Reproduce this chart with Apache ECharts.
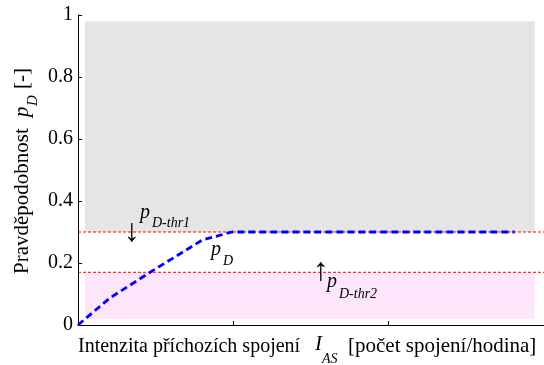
<!DOCTYPE html>
<html>
<head>
<meta charset="utf-8">
<script src="https://cdn.jsdelivr.net/npm/echarts@6/dist/echarts.min.js"></script>
<style>
  html, body { margin: 0; padding: 0; background: #fff; }
  #chart { width: 544px; height: 365px; }
</style>
</head>
<body>
<div id="chart"></div>
<script>
// Detection probability p_D versus arrival intensity I_AS
const pdX = [0, 0.205, 0.48, 0.80, 0.99, 2.81];
const pdY = [0, 0.087, 0.175, 0.274, 0.30, 0.30];

// Threshold levels
const thr1 = 0.30;
const thr2 = 0.17;

// Shaded regions [xFrom, xTo, yFrom, yTo]
const upperBand = [0.045, 2.94, 0.30, 0.98];
const lowerBand = [0.045, 2.94, 0.02, 0.17];

const yTicks = [0, 0.2, 0.4, 0.6, 0.8, 1];

const serif = 'Liberation Serif';

const chart = echarts.init(document.getElementById('chart'), null, { renderer: 'canvas' });

const grid = { left: 78, top: 15, width: 468, height: 310 };

chart.setOption({
  animation: false,
  backgroundColor: '#fff',
  grid: grid,
  xAxis: {
    type: 'value', min: 0, max: 3, interval: 1,
    axisLine: { show: true, onZero: false, lineStyle: { color: '#000', width: 1 } },
    axisTick: { show: true, inside: true, length: 4, lineStyle: { color: '#000' } },
    axisLabel: { show: false },
    splitLine: { show: false }
  },
  yAxis: {
    type: 'value', min: yTicks[0], max: yTicks[yTicks.length - 1], interval: 0.2,
    axisLine: { show: true, onZero: false, lineStyle: { color: '#000', width: 1 } },
    axisTick: { show: true, inside: true, length: 4, lineStyle: { color: '#000' } },
    axisLabel: {
      color: '#000', fontFamily: serif, fontSize: 20, margin: 5,
      formatter: v => (v === 0 || v === 1) ? String(v) : v.toFixed(1)
    },
    splitLine: { show: false }
  },
  series: [
    {
      type: 'line', data: [], silent: true,
      markArea: {
        silent: true,
        data: [
          [{ coord: [upperBand[0], upperBand[2]], itemStyle: { color: '#e5e5e5' } }, { coord: [upperBand[1], upperBand[3]] }],
          [{ coord: [lowerBand[0], lowerBand[2]], itemStyle: { color: '#fde5fb' } }, { coord: [lowerBand[1], lowerBand[3]] }]
        ]
      }
    },
    {
      type: 'line', silent: true, symbol: 'none',
      data: [[0, thr1], [3, thr1]],
      lineStyle: { color: '#ff0000', width: 1, type: [3, 2] },
      z: 3
    },
    {
      type: 'line', silent: true, symbol: 'none',
      data: [[0, thr2], [3, thr2]],
      lineStyle: { color: '#ff0000', width: 1, type: [3, 2] },
      z: 3
    },
    {
      type: 'line', silent: true, symbol: 'none',
      data: pdX.map((x, i) => [x, pdY[i]]),
      lineStyle: { color: '#0000ff', width: 2.8, type: [7, 4] },
      z: 4
    }
  ]
});

function txt(text, x, y, size, italic, extra) {
  return {
    type: 'text', z: 100,
    style: Object.assign({
      text: text, x: x, y: y, fill: '#000',
      fontFamily: serif, fontSize: size, fontStyle: italic ? 'italic' : 'normal',
      verticalAlign: 'bottom'
    }, extra || {})
  };
}

// Italic symbol with italic subscript
function symbolText(x, y, main, sub, dx, dy) {
  return {
    type: 'group', x: x, y: y, z: 100,
    children: [txt(main, 0, 0, 20, true), txt(sub, dx, dy, 14, true)]
  };
}

chart.setOption({
  graphic: [
    txt('↓', 132, 233, 32, false, { align: 'center', verticalAlign: 'middle' }),
    symbolText(140, 223, 'p', 'D-thr1', 12, 7),
    symbolText(211, 260, 'p', 'D', 12, 8),
    txt('↑', 321, 272, 32, false, { align: 'center', verticalAlign: 'middle' }),
    symbolText(327, 292, 'p', 'D-thr2', 12, 9),
    // horizontal axis title
    {
      type: 'group', x: 78, y: 357, z: 100,
      children: [
        txt('Intenzita příchozích spojení', 0, 0, 20, false),
        txt('I', 237, -2, 21, true),
        txt('AS', 244, 9, 14, true),
        txt('[počet spojení/hodina]', 270, 0, 21, false)
      ]
    },
    // vertical axis title
    {
      type: 'group', x: 33, y: 274, rotation: Math.PI / 2, z: 100,
      children: [
        txt('Pravděpodobnost', 0, 0, 21, false),
        txt('p', 157, 0, 21, true),
        txt('D', 168, 8, 15, true),
        txt('[-]', 185, 0, 21, false)
      ]
    }
  ]
});
</script>
</body>
</html>
